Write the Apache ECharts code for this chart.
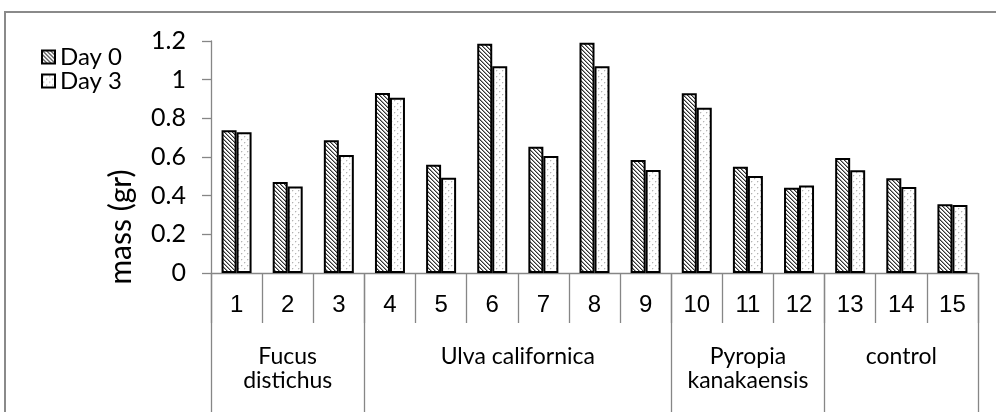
<!DOCTYPE html>
<html>
<head>
<meta charset="utf-8">
<script src="https://cdn.jsdelivr.net/npm/echarts@6/dist/echarts.min.js"></script>
<style>
  html, body { margin: 0; padding: 0; background: #fff; }
  #chart { width: 996px; height: 412px; }
</style>
</head>
<body>
<div id="chart"></div>
<script>
// ---- data ----
const categories = ['1','2','3','4','5','6','7','8','9','10','11','12','13','14','15'];
const groupNames = ['Fucus\ndistichus', 'Ulva californica', 'Pyropia\nkanakaensis', 'control'];
const groupSizes = [3, 6, 3, 3];
const seriesNames = ['Day 0', 'Day 3'];
const day0 = [0.738, 0.471, 0.686, 0.931, 0.560, 1.186, 0.653, 1.191, 0.585, 0.930, 0.550, 0.441, 0.595, 0.490, 0.355];
const day3 = [0.728, 0.447, 0.610, 0.907, 0.493, 1.069, 0.605, 1.069, 0.533, 0.855, 0.502, 0.453, 0.531, 0.445, 0.352];
const yMin = 0, yMax = 1.2, yStep = 0.2;
const yTitle = 'mass (gr)';

// ---- patterns ----
function hatchPattern() {
  const c = document.createElement('canvas');
  c.width = 4; c.height = 4;
  const g = c.getContext('2d');
  g.fillStyle = '#ffffff'; g.fillRect(0, 0, 4, 4);
  for (let i = 0; i < 4; i++) {
    g.fillStyle = '#333333'; g.fillRect(i, i, 1, 1);
    g.fillStyle = '#9c9c9c'; g.fillRect((i + 1) % 4, i, 1, 1);
  }
  return c;
}
function dotPattern() {
  const c = document.createElement('canvas');
  c.width = 6; c.height = 6;
  const g = c.getContext('2d');
  g.fillStyle = '#ffffff'; g.fillRect(0, 0, 6, 6);
  g.fillStyle = '#b4b4b4';
  g.fillRect(1, 1, 1, 1);
  g.fillRect(4, 4, 1, 1);
  g.fillStyle = '#e8e8e8';
  g.fillRect(2, 1, 1, 1); g.fillRect(1, 2, 1, 1);
  g.fillRect(5, 4, 1, 1); g.fillRect(4, 5, 1, 1);
  return c;
}
const fills = [
  { image: hatchPattern(), repeat: 'repeat' },
  { image: dotPattern(), repeat: 'repeat' }
];

// ---- secondary (group) axis built from group sizes, in half-category steps ----
const halfCount = categories.length * 2 + 1;
const groupAxisData = [];
for (let i = 0; i < halfCount; i++) groupAxisData.push('');
const boundaryIdx = [0];
let acc = 0;
groupSizes.forEach((s, gi) => {
  const center = acc * 2 + s;
  groupAxisData[center] = groupNames[gi];
  acc += s;
  boundaryIdx.push(acc * 2);
});

const gray = '#868686';
const chart = echarts.init(document.getElementById('chart'));
chart.setOption({
  animation: false,
  backgroundColor: '#ffffff',
  grid: { left: 211, right: 18, top: 41, height: 232, containLabel: false },
  legend: {
    orient: 'vertical',
    left: 36,
    top: 40,
    itemWidth: 13,
    itemHeight: 13,
    itemGap: 0,
    itemTextGap: 6,
    icon: 'rect',
    textStyle: { fontFamily: 'Lato', fontSize: 24, color: '#000' },
    data: seriesNames.map((n) => ({ name: n, itemStyle: { borderColor: '#000', borderWidth: 2 } }))
  },
  xAxis: [
    {
      type: 'category',
      data: categories,
      position: 'bottom',
      axisLine: { show: true, lineStyle: { color: gray, width: 1.3 } },
      axisTick: { show: true, interval: 0, length: 50, alignWithLabel: false, lineStyle: { color: gray, width: 1.3 } },
      axisLabel: { interval: 0, margin: 20, fontFamily: 'Liberation Sans', fontSize: 24, color: '#000' },
      splitLine: { show: false }
    },
    {
      type: 'category',
      data: groupAxisData,
      position: 'bottom',
      boundaryGap: false,
      axisLine: { show: false },
      axisTick: {
        show: true, length: 150,
        interval: (idx) => boundaryIdx.indexOf(idx) >= 0,
        lineStyle: { color: gray, width: 1.3 }
      },
      axisLabel: {
        interval: (idx, val) => val !== '',
        margin: 72,
        fontFamily: 'Lato', fontSize: 23, lineHeight: 24, color: '#000',
        hideOverlap: false
      },
      splitLine: { show: false }
    }
  ],
  yAxis: {
    type: 'value',
    min: yMin, max: yMax, interval: yStep,
    axisLine: { show: true, lineStyle: { color: gray, width: 1.3 } },
    axisTick: { show: true, length: 9, lineStyle: { color: gray, width: 1.3 } },
    axisLabel: { margin: 25, fontFamily: 'Lato', fontSize: 25, color: '#000' },
    splitLine: { show: false }
  },
  graphic: [
    {
      type: 'rect',
      shape: { x: 5, y: 12, width: 1100, height: 600 },
      style: { fill: 'none', stroke: '#8a8a8a', lineWidth: 2 },
      silent: true
    },
    {
      type: 'text',
      x: 121, y: 227,
      rotation: Math.PI / 2,
      style: { text: yTitle, fontFamily: 'Lato', fontSize: 30, fill: '#000', textAlign: 'center', textVerticalAlign: 'middle' }
    }
  ],
  series: [
    {
      name: seriesNames[0], type: 'bar', data: day0,
      barWidth: 15, barGap: '0%',
      itemStyle: { color: fills[0], borderColor: '#000', borderWidth: 2 }
    },
    {
      name: seriesNames[1], type: 'bar', data: day3,
      barWidth: 15, barGap: '0%',
      itemStyle: { color: fills[1], borderColor: '#000', borderWidth: 2 }
    }
  ]
});
</script>
</body>
</html>
